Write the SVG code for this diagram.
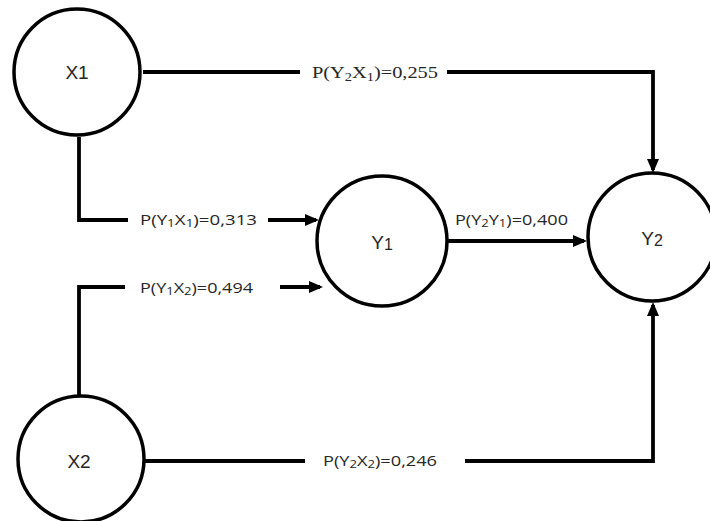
<svg xmlns="http://www.w3.org/2000/svg" width="710" height="521" viewBox="0 0 710 521">
<style>
.node circle{fill:#fff;stroke:#000;stroke-width:3.5}
.nl{font-family:"Liberation Sans","DejaVu Sans",sans-serif;font-size:19px;fill:#262626;text-anchor:middle}
.conn path{fill:none;stroke:#000;stroke-width:3.8}
.lbl{font-family:"Open Sans","Liberation Sans",sans-serif;font-size:14.5px;fill:#262626}
.lbls{font-family:"Liberation Serif","DejaVu Serif",serif;font-size:17px;fill:#262626}
</style>
<defs>
<marker id="ah" markerUnits="userSpaceOnUse" markerWidth="16" markerHeight="14" viewBox="0 0 16 14" refX="11" refY="7" orient="auto">
<path d="M0,1 L14,7 L0,13 Z" fill="#000"/>
</marker>
</defs>
<rect width="710" height="521" fill="#fff"/>
<g id="connectors" class="conn">
<path d="M143 72 H300"/>
<path d="M447 72 H653 V170" marker-end="url(#ah)"/>
<path d="M79 137 V220 H128"/>
<path d="M268 220 H316" marker-end="url(#ah)"/>
<path d="M79 395 V287 H125"/>
<path d="M280 287 H320" marker-end="url(#ah)"/>
<path d="M447 241 H584" marker-end="url(#ah)"/>
<path d="M145 461 H305"/>
<path d="M465 461 H653 V305" marker-end="url(#ah)"/>
</g>
<g id="labels">
<text class="lbls" x="312" y="78" textLength="126" lengthAdjust="spacingAndGlyphs">P(Y<tspan font-size="12" dy="3">2</tspan><tspan dy="-3">X</tspan><tspan font-size="12" dy="3">1</tspan><tspan dy="-3">)=0,255</tspan></text>
<text class="lbl" x="140" y="225" textLength="117" lengthAdjust="spacingAndGlyphs">P(Y<tspan font-size="10.5" dy="2">1</tspan><tspan dy="-2">X</tspan><tspan font-size="10.5" dy="2">1</tspan><tspan dy="-2">)=0,313</tspan></text>
<text class="lbl" x="140" y="293" textLength="113" lengthAdjust="spacingAndGlyphs">P(Y<tspan font-size="10.5" dy="2">1</tspan><tspan dy="-2">X</tspan><tspan font-size="10.5" dy="2">2</tspan><tspan dy="-2">)=0,494</tspan></text>
<text class="lbl" x="455" y="225" textLength="113" lengthAdjust="spacingAndGlyphs">P(Y<tspan font-size="10.5" dy="2">2</tspan><tspan dy="-2">Y</tspan><tspan font-size="10.5" dy="2">1</tspan><tspan dy="-2">)=0,400</tspan></text>
<text class="lbl" x="323" y="466" textLength="114" lengthAdjust="spacingAndGlyphs">P(Y<tspan font-size="10.5" dy="2">2</tspan><tspan dy="-2">X</tspan><tspan font-size="10.5" dy="2">2</tspan><tspan dy="-2">)=0,246</tspan></text>
</g>
<g id="X1" class="node"><circle cx="77" cy="72" r="63"/><text class="nl" x="77" y="79">X1</text></g>
<g id="Y1" class="node"><circle cx="382" cy="241" r="65"/><text class="nl" x="382" y="249">Y<tspan font-size="16" dy="1">1</tspan></text></g>
<g id="Y2" class="node"><circle cx="652" cy="237" r="64"/><text class="nl" x="652" y="245">Y<tspan font-size="16" dy="1">2</tspan></text></g>
<g id="X2" class="node"><circle cx="81" cy="459" r="63"/><text class="nl" x="79" y="468">X2</text></g>
</svg>
